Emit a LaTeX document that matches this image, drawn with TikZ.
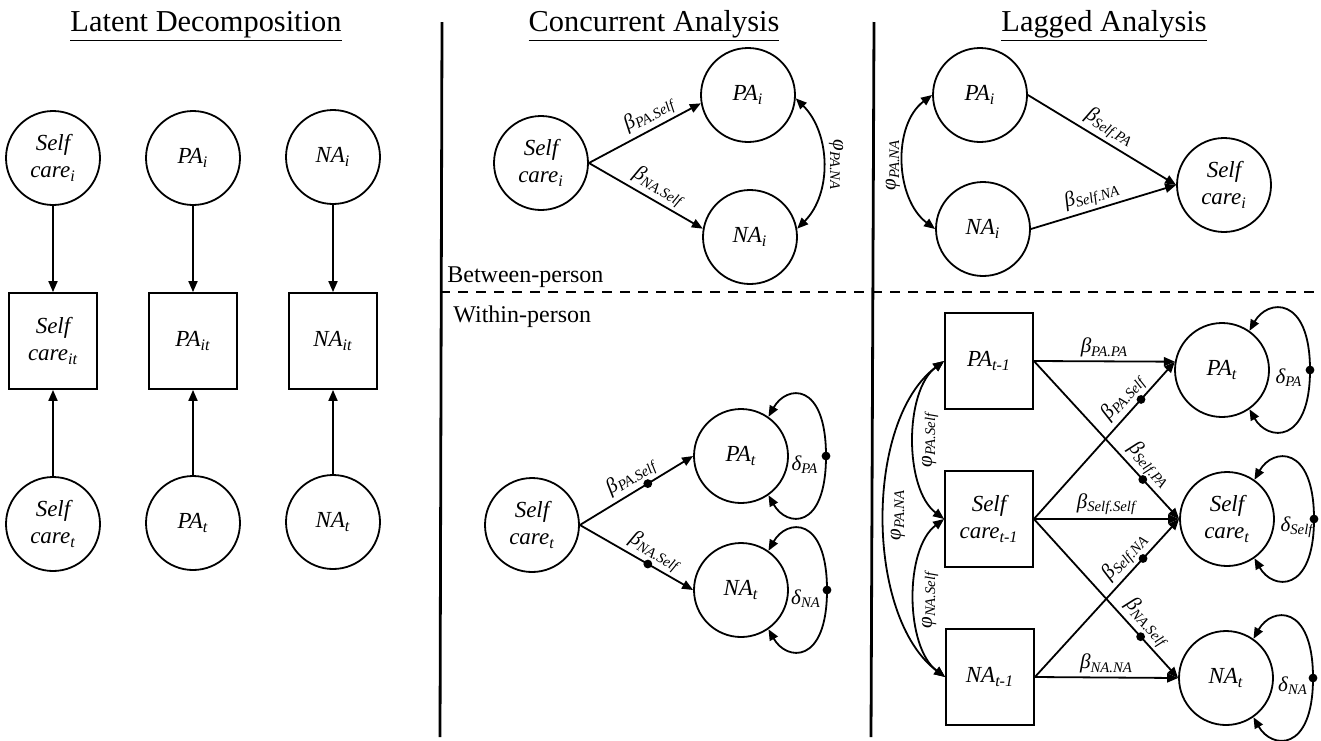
\documentclass[tikz,border=0pt]{standalone}
\usepackage{fontspec}
\setmainfont{Liberation Serif}
\usetikzlibrary{arrows.meta,calc}
\newcommand\myNodeFont{\fontsize{11.5}{13.5}\selectfont\itshape}
\newcommand\myLabFont{\fontsize{10.5}{12}\selectfont\itshape}
\begin{document}
\begin{tikzpicture}[x=0.5pt,y=-0.5pt,
  >={Triangle[length=5.5pt,width=4.5pt]},
  lat/.style={circle, draw, line width=0.9pt, minimum size=47pt, inner sep=0pt, align=center, font=\myNodeFont},
  obs/.style={rectangle, draw, line width=0.9pt, minimum width=44pt, minimum height=48pt, inner sep=0pt, align=center, font=\myNodeFont},
  pathx/.style={line width=0.9pt, ->},
  cov/.style={line width=0.9pt, <->},
  dot/.style={circle, fill=black, draw=none, inner sep=0pt, minimum size=4.4pt},
  lab/.style={font=\myLabFont, sloped, above, inner sep=1.5pt},
  phil/.style={font=\myLabFont, inner sep=0pt},
  dl/.style={font=\myLabFont, inner sep=0pt},
  ttl/.style={font=\fontsize{15.2}{17}\selectfont, anchor=base, inner sep=0pt},
  sect/.style={font=\fontsize{12}{14}\selectfont, anchor=base west, inner sep=0pt},
  sep/.style={line width=1.4pt},
  dash line/.style={line width=1.2pt, dash pattern=on 5pt off 4pt}
]
\useasboundingbox (0,0) rectangle (1321,740);

% ---------- titles ----------
\node[ttl] (t1) at (206,31) {\underline{Latent Decomposition}};
\node[ttl] (t2) at (654,31) {\underline{Concurrent Analysis}};
\node[ttl] (t3) at (1104,31) {\underline{Lagged Analysis}};

% ---------- separators ----------
\coordinate (s1a) at (442,22); \coordinate (s1b) at (440,737);
\coordinate (s2a) at (874,22); \coordinate (s2b) at (871,737);
\coordinate (hda) at (440,292); \coordinate (hdb) at (1321,292);
\draw[sep] (s1a) -- (s1b);
\draw[sep] (s2a) -- (s2b);
\draw[dash line] (hda) -- (hdb);

\node[sect] (bp) at (447,282) {Between-person};
\node[sect] (wp) at (453,322) {Within-person};

% ---------- Latent decomposition ----------
\node[lat] (LSi) at (53,158) {Self\\care\textsubscript{i}};
\node[lat] (LPi) at (193,158) {PA\textsubscript{i}};
\node[lat] (LNi) at (333,157) {NA\textsubscript{i}};
\node[obs] (LSit) at (53,341) {Self\\care\textsubscript{it}};
\node[obs] (LPit) at (193,341) {PA\textsubscript{it}};
\node[obs] (LNit) at (333,341) {NA\textsubscript{it}};
\node[lat] (LSt) at (53,524) {Self\\care\textsubscript{t}};
\node[lat] (LPt) at (193,523) {PA\textsubscript{t}};
\node[lat] (LNt) at (333,522) {NA\textsubscript{t}};
\draw[pathx] (LSi) -- (LSit);
\draw[pathx] (LPi) -- (LPit);
\draw[pathx] (LNi) -- (LNit);
\draw[pathx] (LSt) -- (LSit);
\draw[pathx] (LPt) -- (LPit);
\draw[pathx] (LNt) -- (LNit);

% ---------- Concurrent: between ----------
\node[lat] (CSi) at (541,163) {Self\\care\textsubscript{i}};
\node[lat] (CPi) at (748,95) {PA\textsubscript{i}};
\node[lat] (CNi) at (750,237) {NA\textsubscript{i}};
\draw[pathx] (CSi.east) -- (CPi.190) node[lab,pos=0.6] (cb1) {β\textsubscript{PA.Self}};
\draw[pathx] (CSi.east) -- (CNi.170) node[lab,pos=0.55] (cb2) {β\textsubscript{NA.Self}};
\draw[cov] (CPi.-4) .. controls +(35,35) and +(35,-35) .. (CNi.10);
\node[phil, rotate=-90] (cphi) at (836,165) {φ\textsubscript{PA.NA}};

% ---------- Concurrent: within ----------
\node[lat] (CSt) at (532,525) {Self\\care\textsubscript{t}};
\node[lat] (CPt) at (741,456) {PA\textsubscript{t}};
\node[lat] (CNt) at (741,590) {NA\textsubscript{t}};
\draw[pathx] (CSt.east) -- (CPt.west) node[dot,pos=0.6] (cw1) {} node[lab,pos=0.52] (cw1l) {β\textsubscript{PA.Self}};
\draw[pathx] (CSt.east) -- (CNt.west) node[dot,pos=0.6] (cw2) {} node[lab,pos=0.6] (cw2l) {β\textsubscript{NA.Self}};

\node[dot] (cdPA) at ($(CPt)+(85,0)$) {};
\draw[pathx] (cdPA.center) .. controls +(0,-75) and +(18,-32) .. (CPt.55);
\draw[pathx] (cdPA.center) .. controls +(0,75) and +(18,32) .. (CPt.-55);
\node[dl] (cdPAl) at ($(CPt)+(64,9)$) {δ\textsubscript{PA}};

\node[dot] (cdNA) at ($(CNt)+(86,0)$) {};
\draw[pathx] (cdNA.center) .. controls +(0,-75) and +(18,-32) .. (CNt.55);
\draw[pathx] (cdNA.center) .. controls +(0,75) and +(18,32) .. (CNt.-55);
\node[dl] (cdNAl) at ($(CNt)+(65,9)$) {δ\textsubscript{NA}};

% ---------- Lagged: between ----------
\node[lat] (GPi) at (980,95) {PA\textsubscript{i}};
\node[lat] (GNi) at (983,229) {NA\textsubscript{i}};
\node[lat] (GSi) at (1224,185) {Self\\care\textsubscript{i}};
\draw[pathx] (GPi.east) -- (GSi.west) node[lab,pos=0.5] (gb1) {β\textsubscript{Self.PA}};
\draw[pathx] (GNi.east) -- (GSi.west) node[lab,pos=0.45] (gb2) {β\textsubscript{Self.NA}};
\draw[cov] (GPi.west) .. controls +(-40,30) and +(-40,-30) .. (GNi.west);
\node[phil, rotate=90] (gphi) at (893,165) {φ\textsubscript{PA.NA}};

% ---------- Lagged: within ----------
\node[obs] (PA1) at (989,361) {PA\textsubscript{t-1}};
\node[obs] (S1) at (989,519) {Self\\care\textsubscript{t-1}};
\node[obs] (N1) at (990,677) {NA\textsubscript{t-1}};
\node[lat] (GPt) at (1222,370) {PA\textsubscript{t}};
\node[lat] (GSt) at (1227,519) {Self\\care\textsubscript{t}};
\node[lat] (GNt) at (1226,678) {NA\textsubscript{t}};

\draw[pathx] (PA1.east) -- (GPt.170) node[lab,pos=0.5] (g1) {β\textsubscript{PA.PA}};
\draw[pathx] (PA1.east) -- (GSt.west) node[dot,pos=0.75] (gd1) {} node[lab,pos=0.72] (g2) {β\textsubscript{Self.PA}};
\draw[pathx] (S1.east) -- (GPt.170) node[dot,pos=0.76] (gd2) {} node[lab,pos=0.71] (g3) {β\textsubscript{PA.Self}};
\draw[pathx] (S1.east) -- (GSt.west) node[lab,pos=0.5] (g4) {β\textsubscript{Self.Self}};
\draw[pathx] (S1.east) -- (GNt.west) node[dot,pos=0.74] (gd3) {} node[lab,pos=0.71] (g5) {β\textsubscript{NA.Self}};
\draw[pathx] (N1.east) -- (GSt.west) node[dot,pos=0.75] (gd4) {} node[lab,pos=0.70] (g6) {β\textsubscript{Self.NA}};
\draw[pathx] (N1.east) -- (GNt.west) node[lab,pos=0.5] (g7) {β\textsubscript{NA.NA}};

\draw[cov] (PA1.west) .. controls +(-40,30) and +(-40,-30) .. (S1.west);
\draw[cov] (S1.west) .. controls +(-40,30) and +(-40,-30) .. (N1.west);
\draw[cov] (PA1.west) .. controls +(-80,60) and +(-80,-60) .. (N1.west);
\node[phil, rotate=90] (gp1) at (930,440) {φ\textsubscript{PA.Self}};
\node[phil, rotate=90] (gp2) at (930,600) {φ\textsubscript{NA.Self}};
\node[phil, rotate=90] (gp3) at (898,515) {φ\textsubscript{PA.NA}};

\node[dot] (gdPA) at ($(GPt)+(88,0)$) {};
\draw[pathx] (gdPA.center) .. controls +(0,-75) and +(18,-32) .. (GPt.55);
\draw[pathx] (gdPA.center) .. controls +(0,75) and +(18,32) .. (GPt.-55);
\node[dl] (gdPAl) at ($(GPt)+(67,8)$) {δ\textsubscript{PA}};

\node[dot] (gdS) at ($(GSt)+(87,0)$) {};
\draw[pathx] (gdS.center) .. controls +(0,-75) and +(18,-32) .. (GSt.55);
\draw[pathx] (gdS.center) .. controls +(0,75) and +(18,32) .. (GSt.-55);
\node[dl] (gdSl) at ($(GSt)+(70,8)$) {δ\textsubscript{Self}};

\node[dot] (gdN) at ($(GNt)+(87,0)$) {};
\draw[pathx] (gdN.center) .. controls +(0,-75) and +(18,-32) .. (GNt.55);
\draw[pathx] (gdN.center) .. controls +(0,75) and +(18,32) .. (GNt.-55);
\node[dl] (gdNl) at ($(GNt)+(67,8)$) {δ\textsubscript{NA}};

\end{tikzpicture}
\end{document}
